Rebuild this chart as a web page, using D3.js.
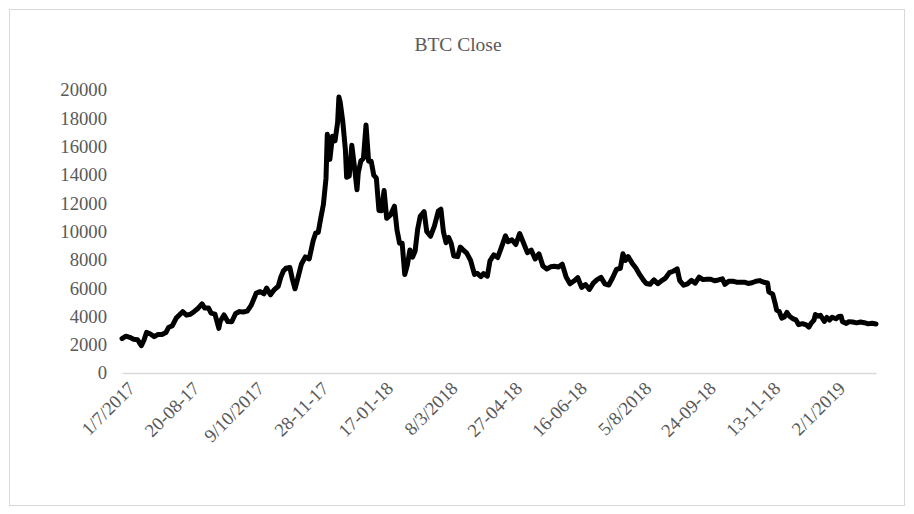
<!DOCTYPE html>
<html>
<head>
<meta charset="utf-8">
<script src="https://cdn.jsdelivr.net/npm/d3@7"></script>
<style>
  html, body { margin: 0; padding: 0; background: #fff; }
  svg { display: block; }
  text { font-family: "Liberation Serif", "Times New Roman", serif; fill: #595959; }
</style>
</head>
<body>
<svg id="chart" width="914" height="514"></svg>
<script>
const title = "BTC Close";
const tickLabels = ["1/7/2017","20-08-17","9/10/2017","28-11-17","17-01-18","8/3/2018","27-04-18","16-06-18","5/8/2018","24-09-18","13-11-18","2/1/2019"];
const yTicks = [0,2000,4000,6000,8000,10000,12000,14000,16000,18000,20000];
const dates = [
"2017-07-01","2017-07-04","2017-07-07","2017-07-10","2017-07-13","2017-07-16","2017-07-18","2017-07-20","2017-07-23","2017-07-26","2017-07-29",
"2017-08-01","2017-08-04","2017-08-06","2017-08-09","2017-08-12","2017-08-14","2017-08-17","2017-08-20","2017-08-23","2017-08-26","2017-08-29",
"2017-09-01","2017-09-03","2017-09-06","2017-09-08","2017-09-11","2017-09-14","2017-09-15","2017-09-18","2017-09-21","2017-09-24","2017-09-27","2017-09-30",
"2017-10-03","2017-10-06","2017-10-09","2017-10-12","2017-10-13","2017-10-16","2017-10-19","2017-10-21","2017-10-24","2017-10-27","2017-10-30",
"2017-11-01","2017-11-03","2017-11-05","2017-11-08","2017-11-10","2017-11-12","2017-11-14","2017-11-17","2017-11-20","2017-11-23","2017-11-26","2017-11-28","2017-11-30",
"2017-12-02","2017-12-04","2017-12-06","2017-12-07","2017-12-08","2017-12-09","2017-12-11","2017-12-13","2017-12-15","2017-12-16","2017-12-17","2017-12-19","2017-12-21","2017-12-22","2017-12-24","2017-12-26","2017-12-28","2017-12-30","2017-12-31",
"2018-01-02","2018-01-04","2018-01-06","2018-01-08","2018-01-10","2018-01-12","2018-01-14","2018-01-16","2018-01-18","2018-01-20","2018-01-22","2018-01-25","2018-01-28","2018-01-30",
"2018-02-01","2018-02-03","2018-02-05","2018-02-07","2018-02-09","2018-02-11","2018-02-13","2018-02-15","2018-02-17","2018-02-20","2018-02-22","2018-02-25","2018-02-28",
"2018-03-03","2018-03-05","2018-03-07","2018-03-09","2018-03-11","2018-03-13","2018-03-15","2018-03-18","2018-03-20","2018-03-22","2018-03-25","2018-03-28","2018-03-31",
"2018-04-02","2018-04-05","2018-04-07","2018-04-10","2018-04-12","2018-04-15","2018-04-18","2018-04-21","2018-04-24","2018-04-26","2018-04-29",
"2018-05-02","2018-05-05","2018-05-08","2018-05-11","2018-05-14","2018-05-17","2018-05-20","2018-05-23","2018-05-26","2018-05-29",
"2018-06-01","2018-06-04","2018-06-07","2018-06-10","2018-06-13","2018-06-16","2018-06-19","2018-06-22","2018-06-25","2018-06-28",
"2018-07-01","2018-07-04","2018-07-07","2018-07-10","2018-07-13","2018-07-16","2018-07-19","2018-07-22","2018-07-24","2018-07-26","2018-07-28","2018-07-31",
"2018-08-03","2018-08-06","2018-08-09","2018-08-11","2018-08-14","2018-08-17","2018-08-20","2018-08-23","2018-08-26","2018-08-29",
"2018-09-01","2018-09-04","2018-09-06","2018-09-09","2018-09-12","2018-09-15","2018-09-18","2018-09-21","2018-09-24","2018-09-27","2018-09-30",
"2018-10-03","2018-10-06","2018-10-09","2018-10-11","2018-10-14","2018-10-17","2018-10-20","2018-10-23","2018-10-26","2018-10-29",
"2018-11-01","2018-11-04","2018-11-07","2018-11-10","2018-11-13","2018-11-14","2018-11-17","2018-11-19","2018-11-20","2018-11-22","2018-11-24","2018-11-26","2018-11-28","2018-11-30",
"2018-12-03","2018-12-05","2018-12-07","2018-12-10","2018-12-13","2018-12-15","2018-12-17","2018-12-19","2018-12-20","2018-12-22","2018-12-24","2018-12-27","2018-12-29","2018-12-31",
"2019-01-02","2019-01-05","2019-01-07","2019-01-09","2019-01-10","2019-01-13","2019-01-15","2019-01-18","2019-01-21","2019-01-24","2019-01-27","2019-01-30",
"2019-02-02","2019-02-05"
];
const closes = [
2434,2601,2518,2385,2353,1929,2318,2868,2754,2565,2726,
2718,2855,3213,3342,3884,4066,4331,4090,4151,4352,4579,
4892,4590,4597,4229,4161,3154,3637,4101,3631,3626,4208,4338,
4309,4370,4773,5430,5649,5754,5599,6006,5526,5893,6130,
6767,7208,7407,7459,6618,5950,6635,7709,8200,8059,9330,9888,9947,
10975,11917,13750,16867,16181,15097,16733,16408,17706,19497,19140,17776,15802,13831,13925,16099,14606,12952,14156,
14982,15170,17527,14973,14973,13980,13772,11490,11474,12899,10931,11175,11787,10107,
9170,9174,6955,7621,8696,8184,8598,10166,11075,11403,10005,9665,10398,
11440,11573,9951,9205,9579,9152,8260,8224,8900,8723,8470,7960,6973,
7052,6812,7023,6843,7927,8355,8163,8917,9697,9280,9420,
9081,9858,9188,8504,8681,8060,8418,7557,7355,7502,
7541,7486,7689,6786,6307,6499,6734,6052,6253,5903,
6349,6599,6758,6300,6218,6731,7321,7404,8424,7950,8230,7780,
7420,6951,6544,6329,6274,6580,6309,6526,6710,7091,
7193,7361,6529,6200,6301,6543,6356,6770,6600,6632,6626,
6519,6576,6652,6268,6489,6487,6418,6417,6415,6330,
6376,6484,6530,6411,6359,5738,5578,4871,4451,4347,3880,3956,4278,4017,
3820,3753,3419,3489,3400,3237,3546,3746,4134,4014,4072,3654,3923,3743,
3943,3836,3989,4006,3631,3508,3630,3602,3545,3600,3558,3474,
3521,3468
];

const svg = d3.select("#chart");

// outer chart border
svg.append("rect")
  .attr("x", 9.5).attr("y", 9.5).attr("width", 895).attr("height", 496)
  .attr("fill", "#fff").attr("stroke", "#d9d9d9").attr("stroke-width", 1);

const parse = d3.utcParse("%Y-%m-%d");
const start = parse(dates[0]);
const data = dates.map((d, i) => ({ day: d3.utcDay.count(start, parse(d)), v: closes[i] }));
const lastDay = d3.max(data, d => d.day);

const x = d3.scaleLinear().domain([0, lastDay]).range([122, 876]);
const y = d3.scaleLinear().domain([0, 20000]).range([373, 90]);

// title
svg.append("text")
  .attr("x", 458).attr("y", 51)
  .attr("text-anchor", "middle")
  .style("font-size", "19.5px")
  .text(title);

// y axis labels
const yAxis = d3.axisLeft(y).tickValues(yTicks).tickSize(0).tickPadding(0).tickFormat(d3.format("d"));
const gy = svg.append("g").attr("transform", "translate(107,0)").call(yAxis);
gy.select(".domain").remove();
gy.selectAll("text").style("font-size", "18.67px").attr("fill", "#595959")
  .style("font-family", "'Liberation Serif', 'Times New Roman', serif");

// x axis (baseline + rotated labels)
const tickDays = tickLabels.map((_, i) => i * 50);
const xAxis = d3.axisBottom(x).tickValues(tickDays).tickSize(0).tickFormat((d, i) => tickLabels[i]);
const gx = svg.append("g").attr("transform", "translate(0,373)").call(xAxis);
gx.select(".domain").attr("stroke", "#d9d9d9").attr("stroke-width", 1.5);
gx.selectAll(".tick text")
  .style("font-size", "18.67px").attr("fill", "#595959")
  .style("font-family", "'Liberation Serif', 'Times New Roman', serif")
  .attr("text-anchor", "end")
  .attr("x", 0).attr("y", 0).attr("dy", "0.35em")
  .attr("transform", "translate(9,12) rotate(-45)");

// line
const line = d3.line().x(d => x(d.day)).y(d => y(d.v));
svg.append("path")
  .datum(data)
  .attr("fill", "none")
  .attr("stroke", "#000")
  .attr("stroke-width", 5)
  .attr("stroke-linejoin", "round")
  .attr("stroke-linecap", "round")
  .attr("d", line);
</script>
</body>
</html>
